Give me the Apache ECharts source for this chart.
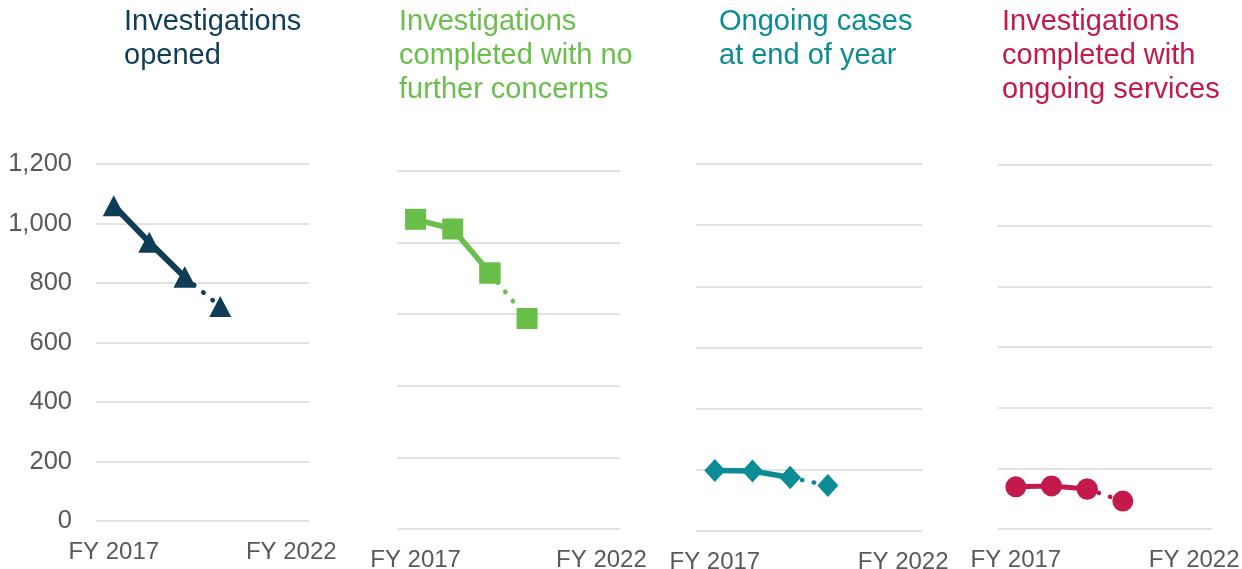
<!DOCTYPE html>
<html>
<head>
<meta charset="utf-8">
<script src="https://cdn.jsdelivr.net/npm/echarts@6/dist/echarts.min.js"></script>
<style>
  html, body { margin: 0; padding: 0; background: #fff; }
  #main { width: 1242px; height: 569px; }
</style>
</head>
<body>
<div id="main"></div>
<script>
// data
var years = ['FY 2017', 'FY 2018', 'FY 2019', 'FY 2020', 'FY 2021', 'FY 2022'];
var opened = [1060, 937, 820, 721];
var noConcerns = [865, 838, 715, 588];
var ongoingCases = [198, 196, 175, 149];
var ongoingServices = [139, 142, 132, 92];

var font = "'Liberation Sans', Arial, sans-serif";
var gray = '#595959';

var panels = [
    { title: 'Investigations\nopened', color: '#0f3d55', data: opened, symbol: 'triangle', size: [22, 21], lw: 6,
      grid: { left: 96, right: 933, top: 164, bottom: 48 }, max: 1200, titleLeft: 124, yLabels: true },
    { title: 'Investigations\ncompleted with no\nfurther concerns', color: '#6abf4b', data: noConcerns, symbol: 'rect', size: 21, lw: 5.5,
      grid: { left: 397, right: 622, top: 171, bottom: 40 }, max: 1000, titleLeft: 399, yLabels: false },
    { title: 'Ongoing cases\nat end of year', color: '#0b8c95', data: ongoingCases, symbol: 'diamond', size: [21, 23], lw: 5.5,
      grid: { left: 696, right: 320, top: 164, bottom: 38 }, max: 1200, titleLeft: 719, yLabels: false },
    { title: 'Investigations\ncompleted with\nongoing services', color: '#c41a4b', data: ongoingServices, symbol: 'circle', size: 21, lw: 5,
      grid: { left: 998, right: 30, top: 165, bottom: 40 }, max: 1200, titleLeft: 1002, yLabels: false }
];

var option = {
    animation: false,
    title: [],
    grid: [],
    xAxis: [],
    yAxis: [],
    series: []
};

panels.forEach(function (p, k) {
    option.title.push({
        text: p.title,
        left: p.titleLeft,
        top: 5,
        padding: 0,
        textStyle: { color: p.color, fontSize: 29, fontWeight: 'normal', fontFamily: font, lineHeight: 34 }
    });
    p.grid.outerBoundsMode = 'none';
    p.grid.containLabel = false;
    option.grid.push(p.grid);
    option.xAxis.push({
        type: 'category',
        gridIndex: k,
        data: years,
        boundaryGap: true,
        axisLine: { show: false },
        axisTick: { show: false },
        axisLabel: {
            interval: function (i) { return i === 0 || i === years.length - 1; },
            color: gray, fontSize: 24, fontFamily: font, margin: 19
        }
    });
    option.yAxis.push({
        type: 'value',
        gridIndex: k,
        min: 0, max: p.max, interval: 200,
        axisLine: { show: false },
        axisTick: { show: false },
        axisLabel: {
            show: p.yLabels, color: gray, fontSize: 25.5, fontFamily: font, margin: 24,
            formatter: function (v) { return v.toLocaleString('en-US'); }
        },
        splitLine: { lineStyle: { color: '#d9d9d9', width: 1.5 } }
    });
    // actual years: solid line
    var solid = years.map(function (y, i) { return i < 3 ? p.data[i] : '-'; });
    // latest year: dotted line
    var dotted = years.map(function (y, i) { return (i === 2 || i === 3) ? p.data[i] : '-'; });
    option.series.push({
        type: 'line', xAxisIndex: k, yAxisIndex: k, z: 3,
        data: solid,
        symbol: p.symbol, symbolSize: p.size,
        itemStyle: { color: p.color },
        lineStyle: { color: p.color, width: p.lw }
    });
    option.series.push({
        type: 'line', xAxisIndex: k, yAxisIndex: k, z: 2,
        data: dotted,
        symbol: p.symbol, symbolSize: p.size,
        itemStyle: { color: p.color },
        lineStyle: { color: p.color, width: 4.5, type: [0.5, 11.5], cap: 'round' }
    });
});

var chart = echarts.init(document.getElementById('main'));
chart.setOption(option);
</script>
</body>
</html>
